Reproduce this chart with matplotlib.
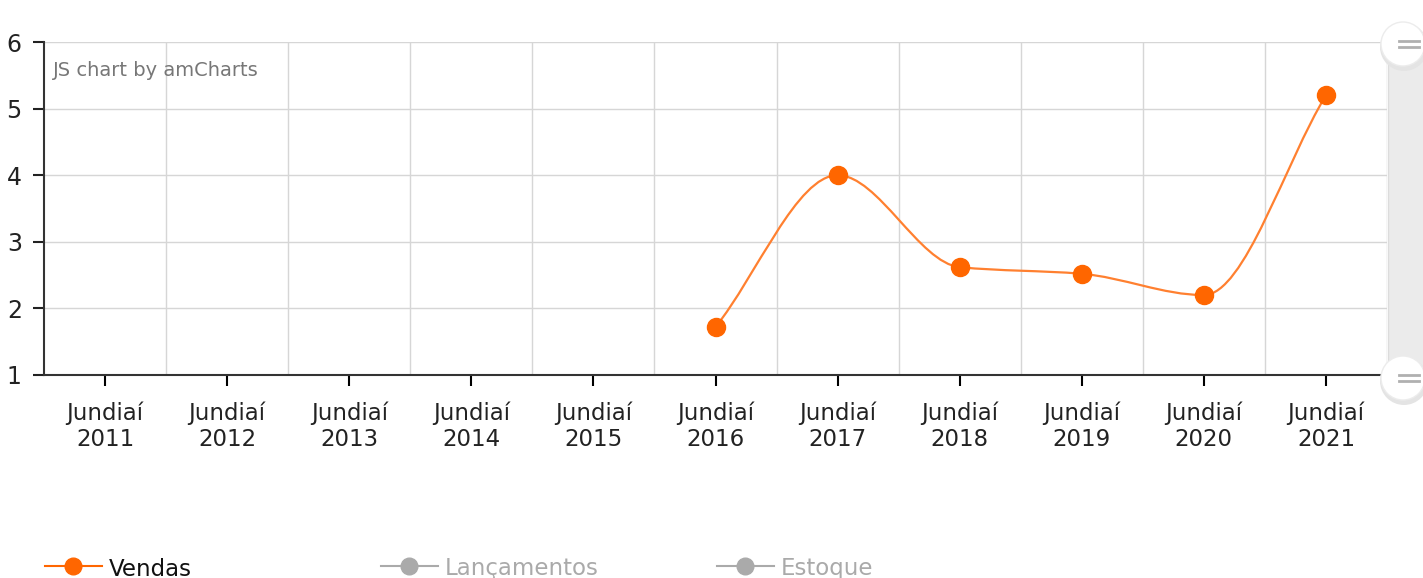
import matplotlib.pyplot as plt
from matplotlib.path import Path
from matplotlib.patches import PathPatch, Rectangle, Circle
from matplotlib.lines import Line2D
from matplotlib.transforms import IdentityTransform, Affine2D

# Data
years = ['2011', '2012', '2013', '2014', '2015', '2016', '2017', '2018', '2019', '2020', '2021']
labels = ['Jundiaí\n' + y for y in years]
vendas_idx = [5, 6, 7, 8, 9, 10]
vendas = [1.72, 4.0, 2.62, 2.52, 2.2, 5.2]

ORANGE = '#FF6600'
GRID = '#d6d6d6'
W, H = 1423, 578

fig = plt.figure(figsize=(W / 100, H / 100), dpi=100)
ax = fig.add_axes([44 / W, 1 - 375 / H, 1343 / W, 333 / H])

ax.set_xlim(-0.5, len(years) - 0.5)
ax.set_ylim(1, 6)
ax.set_yticks(range(1, 7))
ax.set_xticks(range(len(years)))
ax.set_xticklabels(labels, fontsize=16.5, color='#222222', linespacing=1.15)
ax.tick_params(axis='y', labelsize=17, colors='#222222', length=8, width=1.5, pad=8)
ax.tick_params(axis='x', length=8, width=1.5, pad=11)

# grid: horizontal on values, vertical on category boundaries
for v in range(2, 7):
    ax.axhline(v, color=GRID, lw=1, zorder=0)
for b in range(len(years)):
    ax.axvline(b + 0.5, color=GRID, lw=1, zorder=0)

for s in ['top', 'right']:
    ax.spines[s].set_visible(False)
for s in ['left', 'bottom']:
    ax.spines[s].set_color('#333333')
    ax.spines[s].set_linewidth(1.5)

# smoothed line (monotone cubic tangents, drawn as bezier path)
slopes = [(vendas[i + 1] - vendas[i]) / (vendas_idx[i + 1] - vendas_idx[i]) for i in range(len(vendas) - 1)]
tang = [slopes[0]]
for i in range(1, len(vendas) - 1):
    a, b = slopes[i - 1], slopes[i]
    tang.append(0.0 if a * b <= 0 else 2 * a * b / (a + b))
tang.append(slopes[-1])
verts = [(vendas_idx[0], vendas[0])]
codes = [Path.MOVETO]
for i in range(len(vendas) - 1):
    dx = vendas_idx[i + 1] - vendas_idx[i]
    verts += [(vendas_idx[i] + dx / 3, vendas[i] + tang[i] * dx / 3),
              (vendas_idx[i + 1] - dx / 3, vendas[i + 1] - tang[i + 1] * dx / 3),
              (vendas_idx[i + 1], vendas[i + 1])]
    codes += [Path.CURVE4] * 3
ax.add_patch(PathPatch(Path(verts, codes), fill=False, edgecolor='#FF8030', lw=1.6, zorder=3))
ax.plot(vendas_idx, vendas, 'o', color=ORANGE, markersize=13, zorder=4)

ax.text(0.007, 0.915, 'JS chart by amCharts', transform=ax.transAxes, fontsize=14,
        color='#777777', va='center', ha='left')

# scrollbar on the right (pixel coordinates, origin at top-left)
px = Affine2D().scale(1, -1).translate(0, H)
fig.patches.append(Rectangle((1388, 42), 36, 333, transform=px,
                             facecolor='#ebebeb', edgecolor='#dcdcdc', lw=1))
for yy in [44, 378]:
    fig.patches.append(Circle((1404, yy + 3), 24, transform=px, facecolor='#e4e4e4', edgecolor='none'))
    fig.patches.append(Circle((1403, yy), 22, transform=px, facecolor='white', edgecolor='#ececec', lw=1))
    for dy in [-3, 3]:
        fig.add_artist(Line2D([1399, 1419], [H - yy - dy, H - yy - dy], transform=IdentityTransform(),
                              color='#b0b0b0', lw=2))

# legend at the bottom
legend_items = [('Vendas', ORANGE, '#111111', 45), ('Lançamentos', '#aaaaaa', '#aaaaaa', 381),
                ('Estoque', '#aaaaaa', '#aaaaaa', 717)]
ly = 1 - 566 / H
for name, mc, tc, x0 in legend_items:
    fig.add_artist(Line2D([x0 / W, (x0 + 57) / W], [ly, ly], transform=fig.transFigure,
                          color=mc, lw=1.5))
    fig.add_artist(Line2D([(x0 + 28) / W], [ly], transform=fig.transFigure, marker='o',
                          color=mc, markersize=12))
    fig.text((x0 + 64) / W, ly - 3 / H, name, fontsize=16.5, color=tc, ha='left', va='center')

fig.savefig('out.png', dpi=100)
